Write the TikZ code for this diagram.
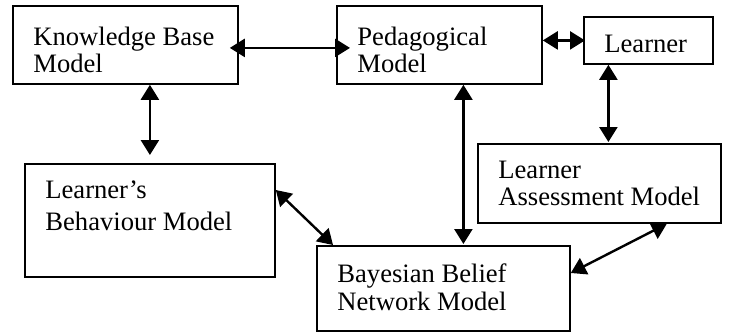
\documentclass[tikz,border=0pt]{standalone}
\usepackage{fontspec}
\setmainfont{Liberation Serif}
\usepackage{tikz}
\usetikzlibrary{arrows.meta}

\begin{document}
\begin{tikzpicture}[x=0.5pt, y=-0.5pt,
		box/.style = {draw, line width=0.9pt, rectangle, anchor=north west, inner sep=0pt},
		lbl/.style = {anchor=base west, align=left, inner sep=0pt, font=\fontsize{13.3}{13.5}\selectfont},
		both/.style = {line width=1.2pt, {Triangle[length=7.5pt,width=9pt]}-{Triangle[length=7.5pt,width=9pt]}}]
		\useasboundingbox (0,0) rectangle (730,334);
		% boxes
		\node[box, minimum width=112.5pt, minimum height=39pt] (kb) at (12,5) {};
		\node[box, minimum width=102.5pt, minimum height=39pt] (ped) at (336,5) {};
		\node[box, minimum width=64.5pt, minimum height=23.5pt] (lrn) at (583,16) {};
		\node[box, minimum width=121.5pt, minimum height=39.5pt] (las) at (477,143) {};
		\node[box, minimum width=125pt, minimum height=56.5pt] (lbm) at (24,163) {};
		\node[box, minimum width=126.5pt, minimum height=42.5pt] (bbn) at (316,245) {};
		% texts (anchored on the last line)
		\node[lbl] (kbt) at (33,72) {Knowledge Base\\Model};
		\node[lbl] (pedt) at (357,72) {Pedagogical\\Model};
		\node[lbl] (lrnt) at (604,52) {Learner};
		\node[lbl] (last) at (498,205) {Learner\\Assessment Model};
		\node[lbl] (lbmt) at (45,230) {Learner’s\\[2.5pt]Behaviour Model};
		\node[lbl] (bbnt) at (337,310) {Bayesian Belief\\[0.5pt]Network Model};
		% links
		\draw[both] ([xshift=-4.5pt,yshift=-1.5pt]kb.east) -- ([xshift=7pt,yshift=-1.5pt]ped.west |- kb.east);
		\draw[both] (ped.east |- lrn.west) -- ([xshift=1pt]lrn.west);
		\draw[both] (kb.south -| lbm.north) -- ([yshift=4pt]lbm.north);
		\draw[both] ([xshift=4.5pt]lrn.south -| las.north) -- ([xshift=4.5pt,yshift=0.5pt]las.north);
		\draw[both] ([xshift=10pt]ped.south -| bbn.north) -- ([xshift=10pt,yshift=0.5pt]bbn.north);
		\draw[both] ([yshift=-13.5pt]lbm.north east) -- ([xshift=8.5pt]bbn.north west);
		\draw[both] ([yshift=-14pt]bbn.north east) -- ([xshift=-27.5pt]las.south east);
	\end{tikzpicture}
\end{document}
